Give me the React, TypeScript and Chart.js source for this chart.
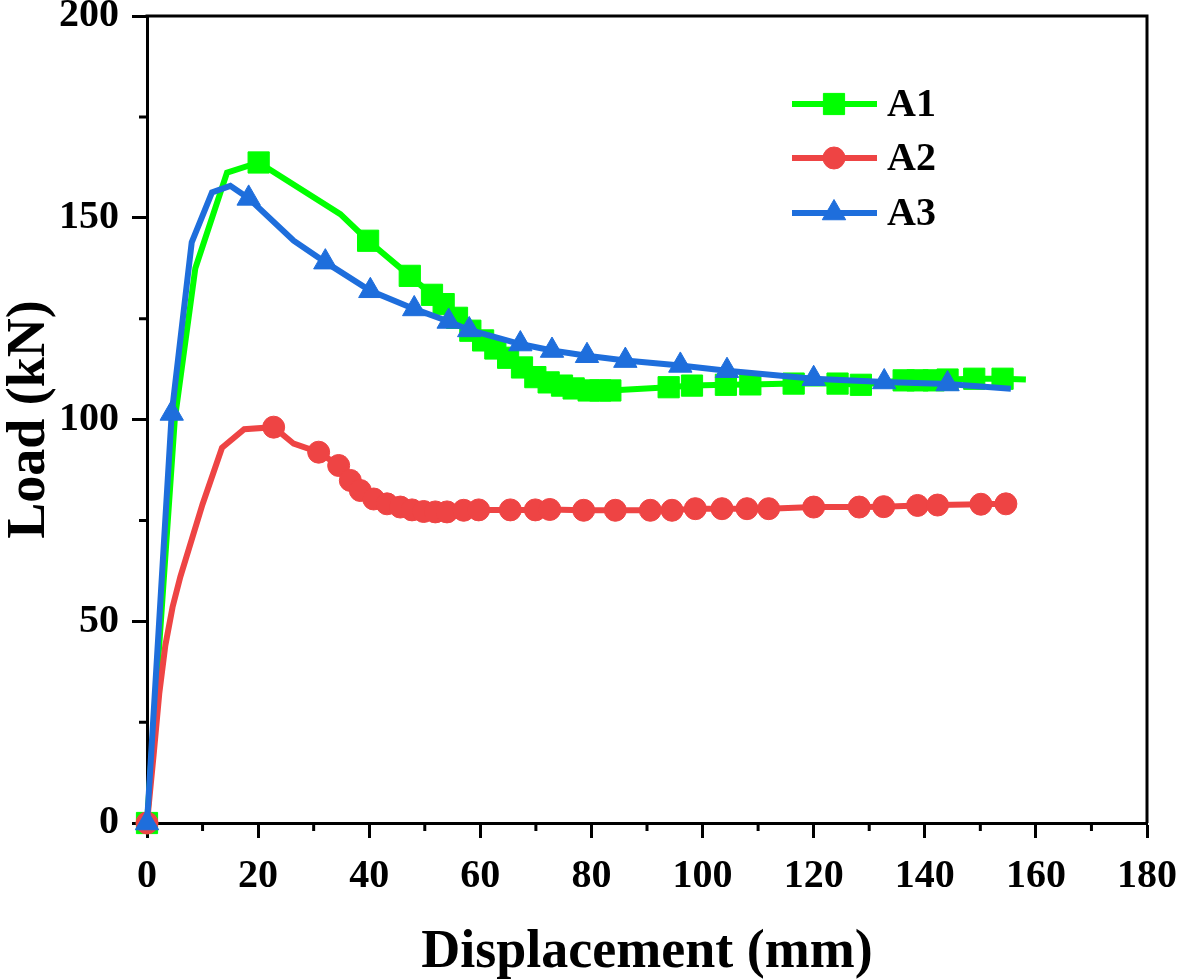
import React, { useEffect, useRef } from "react";
import { Chart, registerables } from "chart.js";
import { drawPoint } from "chart.js/helpers";

Chart.register(...registerables);

// ---- data ----
const a1X = [0, 5, 8.7, 14.4, 20.1, 34.8, 39.8, 47.3, 51.3, 53.4, 55.8, 58.2, 60.5, 62.7, 65, 67.5, 69.9, 72.3, 74.7, 76.8, 79.5, 81.6, 83.4, 93.9, 98.1, 104.2, 108.6, 116.4, 124.3, 128.5, 136.2, 138.7, 141.6, 144.1, 148.9, 154, 158.2];
const a1Y = [0, 100, 137.5, 161.2, 163.7, 150.9, 144.3, 135.6, 130.9, 128.6, 125.2, 122, 119.6, 117.6, 115.3, 112.9, 110.5, 109.2, 108.4, 107.7, 107.2, 107.2, 107.2, 108, 108.4, 108.6, 108.7, 108.9, 108.9, 108.6, 109.7, 109.7, 109.7, 109.9, 110.1, 110.1, 109.9];
const a1Mark = [1, 0, 0, 0, 1, 0, 1, 1, 1, 1, 1, 1, 1, 1, 1, 1, 1, 1, 1, 1, 1, 1, 1, 1, 1, 1, 1, 1, 1, 1, 1, 1, 1, 1, 1, 1, 0];

const a2X = [0, 1.2, 2.2, 3.3, 4.6, 6, 10, 13.5, 17.5, 22.8, 26.4, 30.9, 34.5, 36.6, 38.4, 40.8, 43.2, 45.6, 47.7, 49.8, 51.9, 54, 57, 59.7, 65.4, 69.9, 72.5, 78.6, 84.3, 90.6, 94.5, 98.7, 103.5, 108, 111.9, 120, 128.2, 132.6, 138.7, 142.3, 150.1, 154.6];
const a2Y = [0, 17, 32, 44, 53.5, 61, 79, 93, 97.6, 98.1, 94, 91.9, 88.6, 84.9, 82.4, 80.3, 79.1, 78.3, 77.6, 77.2, 77.1, 77.1, 77.5, 77.6, 77.6, 77.6, 77.7, 77.5, 77.5, 77.5, 77.5, 77.9, 77.9, 77.9, 77.9, 78.3, 78.3, 78.4, 78.7, 78.8, 79, 79.1];
const a2Mark = [1, 0, 0, 0, 0, 0, 0, 0, 0, 1, 0, 1, 1, 1, 1, 1, 1, 1, 1, 1, 1, 1, 1, 1, 1, 1, 1, 1, 1, 1, 1, 1, 1, 1, 1, 1, 1, 1, 1, 1, 1, 1];

const a3X = [0, 4.45, 8.05, 11.7, 15, 18.3, 26.4, 32.1, 40.2, 48.1, 54.3, 58, 67.2, 72.9, 79.2, 86.1, 96, 104.4, 120, 132.7, 144.1, 155.5];
const a3Y = [0, 101.5, 143.9, 156.3, 157.9, 154.8, 144.3, 139, 131.9, 127.4, 124.3, 122.2, 118.7, 117.1, 115.8, 114.6, 113.4, 112.1, 110.1, 109.3, 108.8, 107.6];
const a3Mark = [1, 1, 0, 0, 0, 1, 0, 1, 1, 1, 1, 1, 1, 1, 1, 1, 1, 1, 1, 1, 1, 0];

const seriesNames = ["A1", "A2", "A3"];
const xTicks = [0, 20, 40, 60, 80, 100, 120, 140, 160, 180];
const yTicks = [0, 50, 100, 150, 200];
const xMinor = [10, 30, 50, 70, 90, 110, 130, 150, 170];
const yMinor = [25, 75, 125, 175];

const GREEN = "#00FF00";
const RED = "#EE4444";
const BLUE = "#1E6EDC";
const FAMILY = '"Times New Roman", "Liberation Serif", serif';

const toPoints = (xs: number[], ys: number[]) => xs.map((x, i) => ({ x, y: ys[i] }));

const styles = [
  { color: GREEN, style: "rect", r: 15 },
  { color: RED, style: "circle", r: 11 },
  { color: BLUE, style: "triangle", r: 13.5 },
];

const framePlugin = {
  id: "frameAndMinor",
  afterDraw(chart: any) {
    const { ctx, chartArea } = chart;
    const xs = chart.scales.x;
    const ys = chart.scales.y;
    ctx.save();
    ctx.strokeStyle = "#000";
    ctx.lineWidth = 3;
    ctx.beginPath();
    ctx.moveTo(chartArea.left - 1.5, chartArea.top);
    ctx.lineTo(chartArea.right, chartArea.top);
    ctx.lineTo(chartArea.right, chartArea.bottom);
    ctx.stroke();
    ctx.beginPath();
    xMinor.forEach((v) => {
      const p = xs.getPixelForValue(v);
      ctx.moveTo(p, chartArea.bottom);
      ctx.lineTo(p, chartArea.bottom + 8);
    });
    yMinor.forEach((v) => {
      const p = ys.getPixelForValue(v);
      ctx.moveTo(chartArea.left, p);
      ctx.lineTo(chartArea.left - 8, p);
    });
    ctx.stroke();
    ctx.restore();
  },
};

const legendPlugin = {
  id: "customLegend",
  afterDatasetsDraw(chart: any) {
    const { ctx } = chart;
    ctx.save();
    const rows = [104, 158, 213];
    seriesNames.forEach((name, i) => {
      const s = styles[i];
      const y = rows[i];
      ctx.strokeStyle = s.color;
      ctx.lineWidth = 6;
      ctx.beginPath();
      ctx.moveTo(792, y);
      ctx.lineTo(877, y);
      ctx.stroke();
      ctx.fillStyle = s.color;
      ctx.strokeStyle = s.color;
      ctx.lineWidth = 1;
      drawPoint(ctx, { pointStyle: s.style, radius: s.r, rotation: 0, borderWidth: 1 }, 834, y);
      ctx.fillStyle = "#000";
      ctx.font = `bold 40px ${FAMILY}`;
      ctx.textBaseline = "middle";
      ctx.textAlign = "left";
      ctx.fillText(name, 887, y + 2);
    });
    ctx.restore();
  },
};

export default function App() {
  const ref = useRef<HTMLCanvasElement | null>(null);
  useEffect(() => {
    if (!ref.current) return;
    const mk = (i: number, xs: number[], ys: number[], marks: number[], order: number) => ({
      label: seriesNames[i],
      data: toPoints(xs, ys),
      borderColor: styles[i].color,
      backgroundColor: styles[i].color,
      borderWidth: 6,
      pointStyle: styles[i].style,
      pointRadius: (c: any) => (marks[c.dataIndex] ? styles[i].r : 0),
      pointBorderWidth: 1,
      pointBorderColor: styles[i].color,
      pointBackgroundColor: styles[i].color,
      tension: 0,
      clip: false,
      order,
      showLine: true,
    });
    const chart = new Chart(ref.current, {
      type: "scatter",
      data: {
        datasets: [
          mk(0, a1X, a1Y, a1Mark, 3),
          mk(1, a2X, a2Y, a2Mark, 2),
          mk(2, a3X, a3Y, a3Mark, 1),
        ] as any,
      },
      options: {
        responsive: false,
        animation: false,
        layout: { padding: { top: 15, right: 34, left: 0, bottom: 0 } },
        plugins: { legend: { display: false }, tooltip: { enabled: false } },
        scales: {
          x: {
            type: "linear",
            min: 0,
            max: 180,
            afterBuildTicks: (s: any) => {
              s.ticks = xTicks.map((v) => ({ value: v }));
            },
            afterFit: (s: any) => {
              s.height = 157;
              s.paddingLeft = 0;
              s.paddingRight = 0;
            },
            ticks: {
              color: "#000",
              padding: 15,
              font: { family: FAMILY, size: 40, weight: "bold" },
              maxRotation: 0,
              autoSkip: false,
            },
            grid: { drawOnChartArea: false, drawTicks: true, tickLength: 15, tickWidth: 3, tickColor: "#000" },
            border: { display: true, width: 3, color: "#000" },
            title: {
              display: true,
              text: "Displacement (mm)",
              color: "#000",
              font: { family: FAMILY, size: 54, weight: "bold", lineHeight: 1 },
              padding: { top: 0, bottom: 0 },
            },
          },
          y: {
            type: "linear",
            min: 0,
            max: 200,
            afterBuildTicks: (s: any) => {
              s.ticks = yTicks.map((v) => ({ value: v }));
            },
            afterFit: (s: any) => {
              s.width = 147;
              s.paddingTop = 0;
              s.paddingBottom = 0;
            },
            ticks: {
              color: "#000",
              padding: 13,
              font: { family: FAMILY, size: 40, weight: "bold" },
              autoSkip: false,
            },
            grid: { drawOnChartArea: false, drawTicks: true, tickLength: 15, tickWidth: 3, tickColor: "#000" },
            border: { display: true, width: 3, color: "#000" },
            title: {
              display: true,
              text: "Load (kN)",
              color: "#000",
              font: { family: FAMILY, size: 54, weight: "bold", lineHeight: 1 },
              padding: { top: 3, bottom: 0 },
            },
          },
        },
      } as any,
      plugins: [framePlugin, legendPlugin],
    });
    return () => chart.destroy();
  }, []);
  return (
    <div style={{ position: "absolute", left: 0, top: 0, width: 1181, height: 980, background: "#fff" }}>
      <canvas ref={ref} width={1181} height={980} style={{ display: "block" }} />
    </div>
  );
}
